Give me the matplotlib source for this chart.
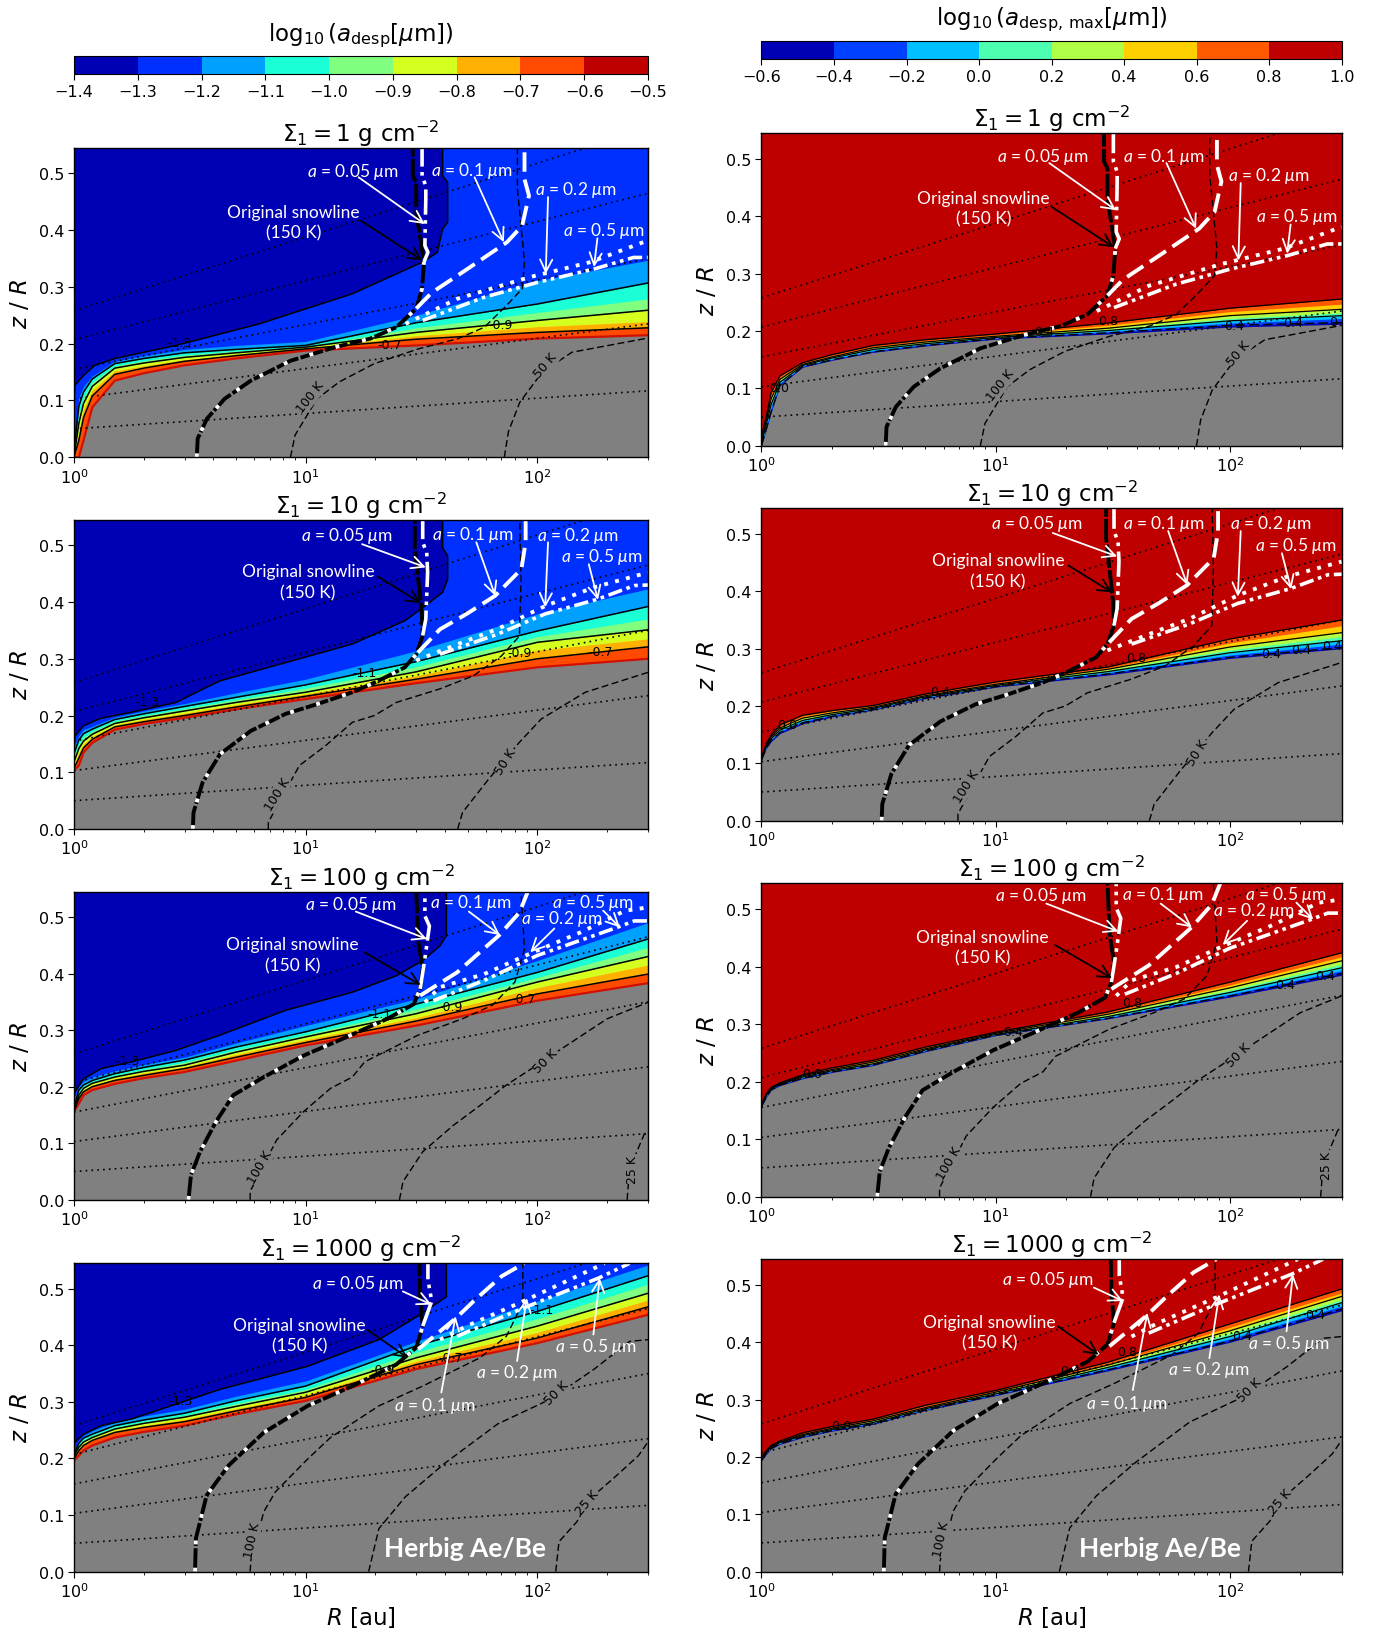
import numpy as np
import matplotlib
matplotlib.use("Agg")
import matplotlib.pyplot as plt
from matplotlib.colors import ListedColormap, BoundaryNorm
from matplotlib.cm import ScalarMappable

plt.rcParams["mathtext.fontset"] = "dejavusans"
plt.rcParams["mathtext.rm"] = "Lato"
plt.rcParams["mathtext.it"] = "Lato:italic"
plt.rcParams["mathtext.bf"] = "Lato:bold"

# colour levels
left_levels = [-1.4, -1.3, -1.2, -1.1, -1.0, -0.9, -0.8, -0.7, -0.6, -0.5]
right_levels = [-0.6, -0.4, -0.2, 0.0, 0.2, 0.4, 0.6, 0.8, 1.0]
left_colors = ["#0000b4", "#0030ff", "#00a0ff", "#1affd5", "#80ff80",
               "#d4ff1f", "#ffb000", "#ff4a00", "#bf0000"]
right_colors = ["#0000b4", "#0040ff", "#00c0ff", "#4dffb0", "#b0ff47",
                "#ffd000", "#ff5a00", "#bf0000"]
gray = "#808080"

sigmas = [1, 10, 100, 1000]

# R positions shared by the band tables
band_R = [1, 1.05, 1.1, 1.2, 1.5, 2, 3, 5, 10, 30, 100, 300]

# left column: height of each colour boundary (from the gray edge upward)
left_bands_1 = [
    [0, 0, .03, .088, .135, .148, .162, .174, .188, .197, .209, .215],
    [0, .03, .07, .108, .146, .157, .169, .179, .191, .208, .22, .228],
    [0, .045, .085, .118, .152, .161, .172, .181, .192, .214, .23, .239],
    [0, .06, .095, .125, .157, .166, .176, .184, .194, .22, .241, .259],
    [.005, .075, .105, .132, .161, .17, .18, .187, .195, .228, .255, .279],
    [.01, .09, .115, .138, .165, .174, .184, .19, .197, .237, .27, .307],
    [.02, .105, .125, .143, .169, .179, .19, .197, .204, .25, .311, .347],
]
left_bands_10 = [
    [.103, .112, .135, .152, .175, .185, .196, .211, .229, .257, .285, .30],
    [.107, .125, .143, .158, .18, .189, .20, .215, .234, .264, .30, .321],
    [.112, .135, .15, .163, .183, .193, .204, .219, .238, .27, .315, .335],
    [.118, .142, .155, .167, .186, .196, .208, .223, .241, .277, .329, .351],
    [.125, .15, .162, .172, .19, .2, .212, .228, .248, .286, .339, .37],
    [.133, .157, .168, .176, .193, .203, .216, .232, .254, .295, .349, .392],
    [.145, .165, .175, .181, .197, .208, .221, .24, .264, .314, .379, .423],
]
left_bands_100 = [
    [.156, .17, .185, .194, .205, .215, .226, .246, .273, .308, .352, .383],
    [.156, .179, .191, .2, .211, .22, .232, .252, .278, .316, .364, .399],
    [.157, .182, .194, .203, .214, .224, .235, .257, .283, .322, .375, .415],
    [.158, .185, .197, .206, .217, .227, .238, .261, .288, .329, .385, .43],
    [.161, .19, .2, .208, .22, .23, .243, .265, .292, .337, .393, .446],
    [.164, .194, .203, .211, .223, .234, .247, .27, .297, .346, .402, .461],
    [.179, .2, .21, .217, .228, .239, .252, .277, .308, .355, .423, .49],
]
left_bands_1000 = [
    [.196, .205, .214, .223, .237, .247, .258, .278, .302, .358, .404, .454],
    [.199, .214, .223, .232, .246, .255, .265, .284, .308, .366, .413, .468],
    [.201, .217, .226, .234, .249, .258, .269, .288, .312, .372, .423, .48],
    [.204, .22, .229, .237, .252, .262, .273, .292, .317, .378, .434, .492],
    [.206, .224, .232, .24, .255, .265, .276, .297, .322, .388, .447, .508],
    [.208, .227, .236, .243, .258, .268, .28, .302, .328, .399, .46, .523],
    [.214, .232, .24, .249, .264, .275, .287, .31, .337, .407, .478, .542],
]

# left column: the -1.3 contour, which turns vertical near 40 au
top_1 = [[1, 1.01, 1.1, 1.23, 1.5, 2.76, 6.3, 15.9, 32, 37, 39, 41, 41, 39, 39],
         [.10, .127, .144, .162, .174, .197, .235, .288, .344, .361, .402, .414, .484, .496, .545]]
top_10 = [[1, 1.01, 1.1, 1.3, 1.78, 2.75, 4.26, 15.9, 26.8, 32, 39, 41, 41, 39, 39],
          [.15, .164, .182, .195, .206, .223, .261, .326, .367, .39, .417, .44, .481, .496, .545]]
top_100 = [[1, 1.01, 1.1, 1.31, 1.78, 2.75, 4.26, 8.2, 15.9, 24.6, 32, 38, 40.5, 40.5, 40.5],
           [.18, .191, .214, .232, .244, .264, .291, .335, .367, .396, .423, .449, .467, .496, .545]]
top_1000 = [[1, 1.01, 1.1, 1.31, 1.78, 4.26, 10.2, 20.7, 32, 40.5, 40.5, 40.5],
            [.22, .229, .243, .258, .27, .322, .363, .41, .457, .486, .513, .545]]

# right column: one row per position in band_R, gray edge first, 0.8 contour last
right_bands_1 = [
    [0, 0, .002, .004, .006, .008, .012, .017],
    [.029, .03, .034, .038, .042, .045, .049, .052],
    [.058, .06, .066, .072, .077, .082, .088, .093],
    [.105, .106, .109, .111, .114, .116, .119, .122],
    [.137, .138, .139, .14, .141, .142, .144, .145],
    [.149, .15, .151, .153, .154, .155, .157, .159],
    [.163, .164, .166, .168, .17, .171, .173, .175],
    [.174, .175, .177, .178, .18, .181, .183, .185],
    [.186, .187, .188, .189, .19, .191, .193, .195],
    [.195, .197, .199, .201, .203, .205, .21, .214],
    [.207, .21, .214, .218, .222, .227, .234, .24],
    [.212, .215, .222, .227, .232, .238, .247, .256],
]
right_bands_10 = [
    [.106, .106, .107, .107, .108, .108, .109, .109],
    [.126, .127, .128, .13, .131, .132, .134, .135],
    [.138, .14, .142, .143, .145, .146, .148, .149],
    [.152, .154, .156, .158, .16, .162, .165, .167],
    [.169, .171, .173, .175, .177, .179, .182, .184],
    [.181, .182, .184, .185, .187, .188, .191, .192],
    [.193, .194, .195, .196, .197, .198, .2, .201],
    [.213, .214, .215, .216, .217, .218, .22, .221],
    [.233, .234, .235, .236, .237, .238, .24, .242],
    [.254, .256, .258, .26, .262, .264, .266, .268],
    [.283, .285, .289, .293, .298, .303, .31, .317],
    [.30, .302, .308, .314, .321, .328, .34, .35],
]
right_bands_100 = [
    [.156, .157, .158, .158, .159, .16, .16, .161],
    [.173, .174, .175, .176, .177, .177, .178, .179],
    [.185, .186, .187, .187, .188, .188, .189, .19],
    [.193, .194, .195, .195, .196, .196, .197, .198],
    [.205, .206, .207, .208, .209, .21, .211, .212],
    [.216, .217, .218, .219, .22, .221, .222, .224],
    [.228, .229, .23, .231, .232, .234, .235, .237],
    [.252, .253, .254, .255, .256, .257, .259, .26],
    [.28, .281, .281, .282, .283, .284, .285, .286],
    [.309, .31, .311, .313, .315, .317, .319, .321],
    [.347, .349, .352, .355, .359, .363, .368, .373],
    [.385, .388, .393, .398, .404, .41, .417, .424],
]
right_bands_1000 = [
    [.193, .194, .195, .196, .197, .197, .198, .199],
    [.205, .206, .207, .208, .209, .209, .21, .211],
    [.214, .215, .216, .217, .218, .218, .219, .22],
    [.222, .223, .224, .225, .226, .226, .227, .228],
    [.234, .235, .236, .237, .238, .239, .24, .242],
    [.245, .246, .247, .248, .249, .25, .251, .253],
    [.257, .258, .259, .26, .262, .263, .264, .266],
    [.281, .282, .283, .284, .285, .286, .288, .29],
    [.307, .308, .309, .31, .311, .313, .314, .316],
    [.35, .352, .354, .356, .358, .36, .362, .365],
    [.40, .402, .406, .41, .415, .42, .426, .432],
    [.455, .458, .463, .469, .474, .48, .486, .493],
]

# dotted lines, same in every panel
dotted_R = [1, 300]
dotted_z = [[.05, .117], [.103, .235], [.155, .35], [.207, .465], [.258, .58]]

# 150 K snowline
snow_1 = [[3.39, 3.42, 3.75, 4.47, 5.8, 8.6, 13.4, 19, 24.6, 30, 31.8, 32.4, 30, 30, 29, 29],
          [0, .033, .068, .103, .135, .17, .194, .209, .229, .262, .297, .344, .432, .484, .496, .545]]
snow_10 = [[3.26, 3.28, 3.59, 4.27, 5.8, 8.2, 11.2, 15.9, 20.6, 26.8, 30, 32, 31.7, 30.6, 29.6, 29.6],
           [0, .029, .082, .132, .173, .203, .22, .241, .261, .285, .308, .341, .382, .44, .493, .545]]
snow_100 = [[3.12, 3.2, 3.5, 4.1, 4.87, 6.6, 9.8, 14.5, 22.5, 29.3, 31.2, 32, 30.7, 30],
            [0, .044, .085, .138, .185, .217, .255, .285, .32, .346, .373, .408, .455, .545]]
snow_1000 = [[3.33, 3.36, 3.74, 4.66, 6.6, 10.2, 15.9, 24.6, 30, 32, 31.2, 31],
             [0, .059, .135, .188, .246, .293, .328, .366, .396, .434, .486, .545]]

# a = 0.05 um, upper part
a05_1 = [[32.4, 33.7, 32.7, 33, 33, 31.8, 31.8], [.344, .361, .373, .455, .478, .496, .545]]
a05_10 = [[32, 33, 33.6, 33.3, 32, 32], [.341, .37, .452, .487, .505, .545]]
a05_100 = [[31.2, 32.7, 34.2, 32.7, 32.7], [.373, .426, .484, .502, .545]]
a05_1000 = [[32, 35, 33.7, 33.7], [.434, .478, .516, .545]]

# a = 0.1 um
a1_1 = [[30, 35, 50, 74, 86, 92, 88, 88], [.262, .29, .332, .379, .408, .461, .49, .545]]
a1_10 = [[30.5, 38, 49.5, 65.7, 85.3, 89, 89], [.311, .352, .379, .411, .458, .505, .545]]
a1_100 = [[31.2, 45, 68.5, 83.7, 91], [.361, .402, .468, .508, .545]]
a1_1000 = [[30.6, 44.5, 54, 70, 87.6], [.393, .448, .481, .522, .545]]

# a = 0.2 um
a2_1 = [[27, 45, 92, 170, 300], [.235, .279, .317, .344, .382]]
a2_10 = [[30, 47.5, 67, 108, 176, 300], [.297, .329, .352, .393, .426, .452]]
a2_100 = [[32.7, 38, 58.9, 95, 154, 239, 300], [.349, .376, .399, .437, .473, .511, .517]]
a2_1000 = [[38, 49.5, 87, 148, 195], [.41, .434, .478, .522, .545]]

# a = 0.5 um
a5_1 = [[32, 59, 100, 177, 260, 300], [.241, .282, .308, .332, .352, .352]]
a5_10 = [[38, 67, 108, 182, 262, 300], [.308, .343, .379, .405, .429, .43]]
a5_100 = [[35.6, 59, 100, 219, 262, 300], [.352, .388, .432, .481, .493, .493]]
a5_1000 = [[45, 87, 184, 250], [.416, .466, .519, .545]]

# temperature contours
t100_1 = [[8.6, 9, 11.2, 14, 19.8, 30.7, 45.5, 59, 73.5, 86, 88, 85, 82, 82],
          [0, .039, .103, .133, .165, .191, .209, .229, .267, .297, .344, .408, .473, .545]]
t50_1 = [[72, 75, 84, 105, 141, 185, 300], [0, .045, .097, .15, .185, .194, .21]]
t100_10 = [[6.9, 6.9, 9.4, 12.2, 15.9, 19.8, 24.6, 38, 52.9, 70, 83.7, 85, 84],
           [0, .012, .112, .147, .188, .2, .223, .247, .27, .305, .34, .44, .545]]
t50_10 = [[45.3, 47.5, 61.6, 83.7, 104, 161, 300], [0, .029, .088, .153, .194, .241, .276]]
t100_100 = [[5.76, 5.76, 7.5, 9.8, 12.8, 15.9, 18, 30.5, 47.5, 64, 80, 88, 85],
            [0, .015, .106, .156, .197, .217, .244, .291, .32, .344, .385, .443, .545]]
t50_100 = [[25.4, 26.3, 32, 43.5, 56.7, 73.5, 99.6, 124, 200, 300],
           [0, .032, .085, .132, .167, .203, .238, .264, .32, .349]]
t25_100 = [[244, 248, 261, 292], [0, .038, .073, .12]]
t100_1000 = [[5.76, 5.8, 6.6, 7.4, 10.2, 12.8, 20.7, 32, 56.5, 73.5, 86.5, 86.5],
             [0, .02, .106, .141, .199, .237, .293, .328, .378, .416, .475, .545]]
t50_1000 = [[18.7, 20.7, 26.9, 39.7, 67.4, 114, 176, 250, 300],
            [0, .076, .132, .191, .261, .305, .358, .407, .41]]
t25_1000 = [[120, 124, 148, 169, 220, 273, 300], [0, .053, .088, .129, .17, .205, .229]]

# contour labels of the left and right columns
left_labels = {
    1: [("-1.3", .184, .372), ("-0.9", .744, .428), ("-0.7", .55, .365)],
    10: [("-1.3", .128, .413), ("-1.1", .506, .506), ("-0.9", .776, .571), ("-0.7", .918, .573)],
    100: [("-1.3", .094, .453), ("-1.1", .532, .603), ("-0.9", .657, .628), ("-0.7", .784, .652)],
    1000: [("-1.3", .186, .554), ("-0.9", .537, .656), ("-0.7", .656, .694), ("-1.1", .814, .849)],
}
right_labels = {
    1: [("0.8", .598, .40), ("0.4", .815, .386), ("0.4", .917, .393), ("0", .985, .397),
        ("0.4", .487, .366), ("0.0", .03, .187)],
    10: [("0.8", .645, .522), ("0.4", .307, .412), ("0.4", .879, .535), ("0.4", .93, .548),
         ("0.4", .983, .561), ("0.0", .045, .308)],
    100: [("0.8", .638, .619), ("0.4", .434, .528), ("0.4", .902, .676), ("0.4", .972, .704),
          ("0.0", .087, .392)],
    1000: [("0.8", .63, .704), ("0.4", .532, .643), ("0.4", .828, .757), ("0.4", .955, .824),
           ("0.0", .137, .467)],
}

# temperature labels: text, x, y, rotation (axes fraction)
temp_labels = {
    1: [("100 K", .412, .195, 52), ("50 K", .822, .297, 50)],
    10: [("100 K", .354, .113, 58), ("50 K", .752, .218, 58)],
    100: [("100 K", .324, .108, 60), ("50 K", .822, .453, 45), ("25 K", .973, .10, 90)],
    1000: [("100 K", .31, .105, 78), ("50 K", .841, .581, 45), ("25 K", .895, .226, 50)],
}

# white notes: text, text x, y, arrow start x, y, arrow tip x, y (axes fraction)
notes = {
    1: [("$a$ = 0.05 $\\mu$m", .485, .927, .496, .905, .611, .754),
        ("$a$ = 0.1 $\\mu$m", .693, .929, .698, .905, .749, .695),
        ("$a$ = 0.2 $\\mu$m", .874, .868, .826, .841, .822, .593),
        ("$a$ = 0.5 $\\mu$m", .923, .735, .912, .708, .906, .615)],
    10: [("$a$ = 0.05 $\\mu$m", .475, .952, .502, .921, .613, .846),
         ("$a$ = 0.1 $\\mu$m", .694, .954, .701, .927, .734, .754),
         ("$a$ = 0.2 $\\mu$m", .877, .952, .826, .927, .821, .717),
         ("$a$ = 0.5 $\\mu$m", .92, .884, .897, .856, .913, .741)],
    100: [("$a$ = 0.05 $\\mu$m", .482, .961, .491, .935, .615, .846),
          ("$a$ = 0.1 $\\mu$m", .692, .967, .688, .935, .742, .859),
          ("$a$ = 0.5 $\\mu$m", .903, .965, .922, .938, .951, .884),
          ("$a$ = 0.2 $\\mu$m", .849, .914, .837, .88, .795, .803)],
    1000: [("$a$ = 0.05 $\\mu$m", .494, .935, .573, .909, .623, .866),
           ("$a$ = 0.1 $\\mu$m", .629, .541, .64, .581, .665, .828),
           ("$a$ = 0.2 $\\mu$m", .771, .647, .772, .683, .789, .887),
           ("$a$ = 0.5 $\\mu$m", .909, .731, .905, .769, .916, .952)],
}
# snowline note: text x, y, arrow start x, y, arrow tip x, y
snow_notes = {
    1: (.383, .76, .50, .765, .607, .636),
    10: (.408, .80, .529, .817, .604, .731),
    100: (.381, .795, .506, .803, .604, .697),
    1000: (.393, .767, .511, .785, .581, .694),
}

left_tables = {1: left_bands_1, 10: left_bands_10, 100: left_bands_100, 1000: left_bands_1000}
right_tables = {1: right_bands_1, 10: right_bands_10, 100: right_bands_100, 1000: right_bands_1000}
top_tables = {1: top_1, 10: top_10, 100: top_100, 1000: top_1000}
snow_tables = {1: snow_1, 10: snow_10, 100: snow_100, 1000: snow_1000}
a05_tables = {1: a05_1, 10: a05_10, 100: a05_100, 1000: a05_1000}
a1_tables = {1: a1_1, 10: a1_10, 100: a1_100, 1000: a1_1000}
a2_tables = {1: a2_1, 10: a2_10, 100: a2_100, 1000: a2_1000}
a5_tables = {1: a5_1, 10: a5_10, 100: a5_100, 1000: a5_1000}
temp_tables = {
    1: [t100_1, t50_1],
    10: [t100_10, t50_10],
    100: [t100_100, t50_100, t25_100],
    1000: [t100_1000, t50_1000, t25_1000],
}

W, H = 1320.0, 1568.0
fig = plt.figure(figsize=(13.75, 16.33), dpi=100)


def make_axes(x0, x1, y0, y1):
    return fig.add_axes([x0 / W, 1 - y1 / H, (x1 - x0) / W, (y1 - y0) / H])


def draw_left(ax, s):
    ax.set_facecolor(left_colors[0])
    top = top_tables[s]
    ax.fill([1] + top[0] + [300, 300], [0] + top[1] + [.545, 0], color=left_colors[1], lw=0)
    table = left_tables[s]
    for row, c in zip(table[:0:-1], left_colors[2:8]):
        ax.fill_between(band_R, 0, row, color=c, lw=0)
    ax.plot(band_R, table[0], color="#d01000", lw=1.6)
    ax.fill_between(band_R, 0, table[0], color=gray, lw=0)
    for i in [1, 3, 5]:
        ax.plot(band_R, table[i], color="k", lw=1.1)
    ax.plot(top[0], top[1], color="k", lw=1.1)
    for txt, fx, fy in left_labels[s]:
        ax.text(fx, fy, txt, transform=ax.transAxes, fontsize=9, ha="center", va="center")


def draw_right(ax, s):
    ax.set_facecolor(right_colors[7])
    table = np.array(right_tables[s]).T
    for row, c in zip(table[:0:-1], right_colors[6::-1]):
        ax.fill_between(band_R, 0, row, color=c, lw=0)
    ax.fill_between(band_R, 0, table[0], color=gray, lw=0)
    for i in [3, 5, 7]:
        ax.plot(band_R, table[i], color="k", lw=0.9)
    ax.plot(band_R, table[1], color="k", lw=1.0, ls=(0, (7, 3)))
    for txt, fx, fy in right_labels[s]:
        ax.text(fx, fy, txt, transform=ax.transAxes, fontsize=9, ha="center", va="center")


def draw_common(ax, s):
    for row in dotted_z:
        ax.plot(dotted_R, row, color="k", lw=1.2, ls=(0, (1, 2.5)))
    for t in temp_tables[s]:
        ax.plot(t[0], t[1], color="k", lw=1, ls=(0, (5, 2.5)))
    for txt, fx, fy, rot in temp_labels[s]:
        ax.text(fx, fy, txt, transform=ax.transAxes, fontsize=9, ha="center", va="center",
                rotation=rot, bbox=dict(fc=gray, ec="none", pad=0.6))

    snow = snow_tables[s]
    a05 = a05_tables[s]
    ax.plot(snow[0], snow[1], color="k", lw=2.8, ls=(0, (6, 0.6)))
    low = np.array(snow[1]) <= a05[1][0]
    ax.plot(np.array(snow[0])[low], np.array(snow[1])[low], color="w", lw=2.8, ls=(0, (1, 6)))
    ax.plot(a05[0], a05[1], color="w", lw=2.6, ls=(0, (7, 1.5, 1, 1.5, 1, 1.5)))
    ax.plot(a1_tables[s][0], a1_tables[s][1], color="w", lw=2.8, ls=(0, (5, 2)))
    ax.plot(a2_tables[s][0], a2_tables[s][1], color="w", lw=2.8, ls=(0, (1, 1.9)))
    ax.plot(a5_tables[s][0], a5_tables[s][1], color="w", lw=2.6, ls=(0, (4, 1.3, 1, 1.3, 1, 1.3)))

    for txt, tx, ty, sx, sy, ex, ey in notes[s]:
        ax.text(tx, ty, txt, transform=ax.transAxes, color="w", fontsize=12.5, family="Lato",
                math_fontfamily="custom", ha="center", va="center", zorder=6)
        ax.annotate("", xy=(ex, ey), xytext=(sx, sy), xycoords="axes fraction",
                    arrowprops=dict(arrowstyle="->", color="w", lw=1.3, mutation_scale=22,
                                    shrinkA=0, shrinkB=0), zorder=6)
    tx, ty, sx, sy, ex, ey = snow_notes[s]
    ax.text(tx, ty, "Original snowline\n(150 K)", transform=ax.transAxes, color="w", fontsize=12.5,
            family="Lato", linespacing=1.35, ha="center", va="center", zorder=6)
    ax.annotate("", xy=(ex, ey), xytext=(sx, sy), xycoords="axes fraction",
                arrowprops=dict(arrowstyle="->", color="k", lw=1.3, mutation_scale=22,
                                shrinkA=0, shrinkB=0), zorder=6)

    ax.set_xscale("log")
    ax.set_xlim(1, 300)
    ax.set_ylim(0, 0.545)
    ax.set_yticks([0, .1, .2, .3, .4, .5])
    ax.tick_params(labelsize=11.5, length=4, pad=3)
    ax.tick_params(which="minor", length=2.5)
    ax.set_ylabel("$z$ / $R$", fontsize=16.5, labelpad=5)
    ax.set_title(f"$\\Sigma_1 = {s}\\ \\mathrm{{g\\ cm^{{-2}}}}$", fontsize=16.6, pad=4,
                 math_fontfamily="dejavusans")
    for sp in ax.spines.values():
        sp.set_linewidth(1.0)
    ax.set_axisbelow(False)


left_y = [(143, 440), (500, 797), (857, 1153), (1214, 1510)]
right_y = [(129, 429), (489, 789), (849, 1150), (1210, 1510)]

for i, s in enumerate(sigmas):
    ax = make_axes(71, 622, left_y[i][0], left_y[i][1])
    draw_left(ax, s)
    draw_common(ax, s)
    ax2 = make_axes(731, 1288, right_y[i][0], right_y[i][1])
    draw_right(ax2, s)
    draw_common(ax2, s)

for a, fx in [(ax, .54), (ax2, .547)]:
    a.set_xlabel("$R$ [au]", fontsize=16.5, labelpad=3)
    a.text(fx, .075, "Herbig Ae/Be", transform=a.transAxes, color="w", fontsize=19,
           family="Lato", weight="bold", ha="left", va="center")

cax = make_axes(71, 622, 55, 72)
cb = fig.colorbar(ScalarMappable(BoundaryNorm(left_levels, 9), ListedColormap(left_colors)),
                  cax=cax, orientation="horizontal", ticks=left_levels, spacing="proportional")
cb.ax.set_xticklabels([f"{v:.1f}".replace("-", "\u2212") for v in left_levels])
cb.ax.tick_params(labelsize=11.5, length=4, pad=3)
cb.ax.minorticks_off()
cb.set_label("$\\log_{10}(a_{\\mathrm{desp}}[\\mu\\mathrm{m}])$", fontsize=16.5, labelpad=12,
             math_fontfamily="dejavusans")
cb.ax.xaxis.set_label_position("top")

cax2 = make_axes(731, 1288, 40, 58)
cb2 = fig.colorbar(ScalarMappable(BoundaryNorm(right_levels, 8), ListedColormap(right_colors)),
                   cax=cax2, orientation="horizontal", ticks=right_levels, spacing="proportional")
cb2.ax.set_xticklabels([f"{v:.1f}".replace("-", "\u2212") for v in right_levels])
cb2.ax.tick_params(labelsize=11.5, length=4, pad=3)
cb2.ax.minorticks_off()
cb2.set_label("$\\log_{10}(a_{\\mathrm{desp,\\,max}}[\\mu\\mathrm{m}])$", fontsize=16.5, labelpad=12,
              math_fontfamily="dejavusans")
cb2.ax.xaxis.set_label_position("top")

fig.savefig("out.png", dpi=100)
